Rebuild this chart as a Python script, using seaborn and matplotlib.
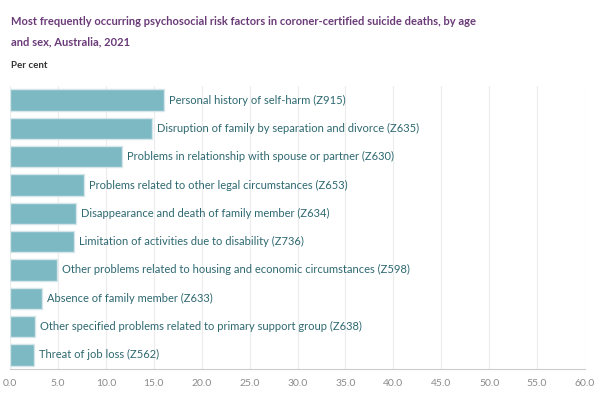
import matplotlib
matplotlib.use("Agg")
import matplotlib.pyplot as plt
import seaborn as sns
import pandas as pd

factors = [
    "Personal history of self-harm (Z915)",
    "Disruption of family by separation and divorce (Z635)",
    "Problems in relationship with spouse or partner (Z630)",
    "Problems related to other legal circumstances (Z653)",
    "Disappearance and death of family member (Z634)",
    "Limitation of activities due to disability (Z736)",
    "Other problems related to housing and economic circumstances (Z598)",
    "Absence of family member (Z633)",
    "Other specified problems related to primary support group (Z638)",
    "Threat of job loss (Z562)",
]
per_cent = [16.1, 14.8, 11.7, 7.7, 6.9, 6.7, 4.9, 3.3, 2.6, 2.5]
ticks = [0, 5, 10, 15, 20, 25, 30, 35, 40, 45, 50, 55, 60]

df = pd.DataFrame({"factor": factors, "value": per_cent})

sns.set_style("white")
plt.rcParams["font.family"] = ["Lato", "DejaVu Sans"]

fig = plt.figure(figsize=(5.95, 3.96), dpi=100)
ax = fig.add_axes([0.017, 0.068, 0.966, 0.715])

sns.barplot(data=df, x="value", y="factor", color="#7db9c3", saturation=1,
            width=0.75, edgecolor="#d5e6ea", linewidth=1, ax=ax)

for i, (name, v) in enumerate(zip(factors, per_cent)):
    ax.text(v + 0.5, i, name, va="center", ha="left", fontsize=8, color="#2d6870")

ax.set_xlim(0, 60)
ax.set_xticks(ticks)
ax.set_xticklabels([f"{t:.1f}" for t in ticks], fontsize=7.5, color="#8a8a8a")
ax.set_yticks([])
ax.set_xlabel("")
ax.set_ylabel("")
ax.grid(axis="x", color="#ececec", linewidth=0.8)
ax.set_axisbelow(True)
for s in ["top", "right", "left"]:
    ax.spines[s].set_visible(False)
ax.spines["bottom"].set_color("#cccccc")
ax.tick_params(axis="x", length=3, color="#cccccc", pad=4)

fig.text(0.018, 0.96, "Most frequently occurring psychosocial risk factors in coroner-certified suicide deaths, by age\nand sex, Australia, 2021",
         fontsize=8.0, fontweight="bold", color="#6a3a78", va="top", linespacing=2.1)
fig.text(0.018, 0.835, "Per cent", fontsize=7, fontweight="bold", color="#333333", va="center")

fig.savefig("out.png", dpi=100)
